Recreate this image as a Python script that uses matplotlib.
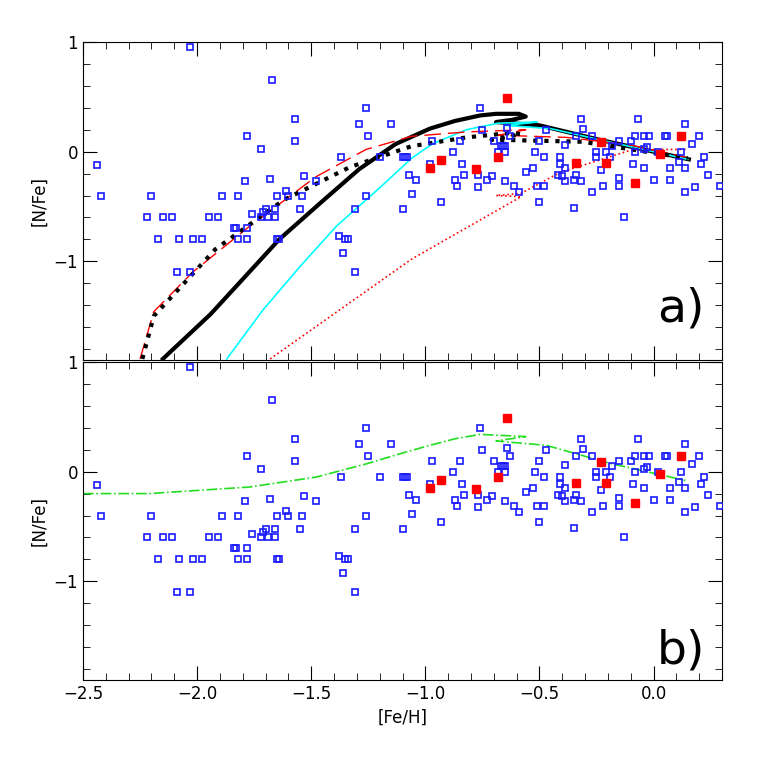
import matplotlib
matplotlib.use("Agg")
import matplotlib.pyplot as plt
from matplotlib.ticker import MultipleLocator

# Blue open squares: field stars [Fe/H], [N/Fe]
blue_x = [-2.03,-2.44,-2.42,-2.20,-2.22,-2.15,-2.11,-2.17,-2.08,-2.02,-1.98,-2.09,-2.03,
          -1.95,-1.91,-1.89,-1.82,-1.84,-1.83,-1.78,-1.82,-1.78,-1.67,-1.78,-1.72,-1.79,-1.68,
          -1.76,-1.72,-1.71,-1.70,-1.69,-1.66,-1.66,-1.65,-1.65,-1.64,-1.61,-1.60,-1.57,-1.57,
          -1.53,-1.54,-1.55,-1.48,-1.37,-1.38,-1.36,-1.35,-1.34,-1.31,-1.31,-1.26,-1.29,-1.26,
          -1.25,-1.15,-1.20,-1.10,-1.10,-1.09,-1.08,
          -1.07,-1.04,-1.06,-0.98,-0.97,-0.93,-0.88,-0.85,-0.84,-0.87,-0.86,-0.83,-0.77,-0.77,
          -0.76,-0.75,-0.73,-0.71,-0.70,-0.68,-0.67,-0.66,-0.65,-0.65,-0.64,-0.63,-0.65,-0.61,
          -0.59,-0.56,-0.53,-0.52,-0.50,-0.51,-0.48,-0.50,-0.48,-0.47,-0.41,-0.41,-0.39,-0.42,
          -0.40,-0.39,-0.39,-0.34,-0.34,-0.35,-0.32,-0.35,-0.32,-0.31,-0.27,-0.27,-0.25,-0.25,
          -0.23,-0.22,-0.21,-0.19,-0.18,-0.15,-0.15,-0.15,-0.13,-0.10,-0.09,-0.08,-0.08,-0.07,
          -0.04,-0.02,-0.04,-0.03,-0.04,0.00,0.02,0.05,0.06,0.07,0.07,0.11,0.12,0.14,0.14,0.14,
          0.17,0.18,0.20,0.21,0.22,0.24,0.29]
blue_y = [0.95,-0.12,-0.40,-0.40,-0.60,-0.60,-0.60,-0.80,-0.80,-0.80,-0.80,-1.10,-1.10,
          -0.60,-0.60,-0.40,-0.40,-0.70,-0.70,-0.70,-0.80,-0.80,0.65,0.14,0.02,-0.27,-0.25,
          -0.57,-0.60,-0.55,-0.52,-0.60,-0.52,-0.60,-0.40,-0.80,-0.80,-0.36,-0.40,0.30,0.10,
          -0.22,-0.40,-0.52,-0.27,-0.05,-0.77,-0.92,-0.80,-0.80,-0.52,-1.10,-0.40,0.25,0.40,
          0.14,0.25,-0.05,-0.05,-0.52,-0.05,-0.05,
          -0.21,-0.26,-0.39,-0.11,0.10,-0.46,0.00,0.10,-0.11,-0.26,-0.31,-0.21,-0.21,-0.32,
          0.40,0.20,-0.26,-0.22,0.10,0.00,0.05,0.05,0.05,0.00,0.22,0.14,-0.27,-0.31,
          -0.37,-0.19,-0.15,0.00,0.10,-0.31,-0.31,-0.46,-0.05,0.20,-0.05,-0.11,-0.15,-0.21,
          -0.22,-0.27,0.06,0.14,-0.21,-0.26,-0.27,-0.51,0.30,0.21,0.14,-0.37,0.00,-0.05,
          -0.17,-0.31,0.00,-0.05,0.05,0.10,-0.24,-0.31,-0.60,0.10,-0.11,0.14,0.00,0.30,
          0.14,0.14,0.02,0.04,-0.15,-0.26,0.00,0.14,0.14,-0.15,-0.26,-0.09,0.00,0.25,-0.15,-0.37,
          0.07,-0.32,0.14,-0.11,-0.05,-0.21,-0.31]

# Red filled squares
red_x = [-0.64,-0.98,-0.93,-0.78,-0.68,-0.34,-0.23,-0.21,-0.08,0.03,0.12]
red_y = [0.49,-0.15,-0.08,-0.16,-0.05,-0.10,0.09,-0.10,-0.29,-0.02,0.14]

# Model curves, panel a
black_x = [-2.15,-1.94,-1.64,-1.45,-1.29,-1.13,-0.98,-0.87,-0.76,-0.69,-0.59,-0.56,-0.62,-0.69,-0.50,-0.24,0.00,0.155]
black_y = [-1.89,-1.48,-0.80,-0.45,-0.16,0.07,0.21,0.28,0.33,0.345,0.345,0.32,0.29,0.27,0.24,0.11,0.00,-0.07]
cyan_x = [-1.87,-1.71,-1.55,-1.39,-1.20,-1.06,-0.97,-0.82,-0.68,-0.51,-0.60,-0.65,-0.45,-0.24,0.00,0.15]
cyan_y = [-1.89,-1.44,-1.05,-0.68,-0.33,-0.06,0.07,0.20,0.26,0.27,0.25,0.24,0.21,0.11,0.00,-0.07]
reddash_x = [-2.25,-2.19,-2.02,-1.77,-1.48,-1.26,-1.06,-0.82,-0.56,-0.68,-0.38,-0.10,0.14]
reddash_y = [-1.89,-1.46,-1.10,-0.68,-0.23,0.02,0.14,0.18,0.20,0.15,0.13,0.06,-0.05]
blackdot_x = [-2.24,-2.19,-1.92,-1.62,-1.33,-1.06,-0.82,-0.63,-0.58,-0.71,-0.31,0.15]
blackdot_y = [-1.89,-1.50,-0.89,-0.44,-0.14,0.05,0.13,0.17,0.16,0.11,0.09,-0.06]
reddot_x = [-1.68,-1.06,-0.58,-0.69,-0.58,-0.41,-0.09,0.14]
reddot_y = [-1.89,-0.98,-0.41,-0.40,-0.38,-0.19,0.02,0.02]

# Model curve, panel b
green_x = [-2.50,-2.21,-1.77,-1.48,-1.26,-1.10,-0.98,-0.87,-0.76,-0.56,-0.69,-0.47,-0.18,0.14]
green_y = [-0.20,-0.20,-0.14,-0.05,0.07,0.17,0.24,0.30,0.34,0.32,0.28,0.24,0.07,-0.08]

fig = plt.figure(figsize=(7.63, 7.63), dpi=100)
W = H = 763.0
axa = fig.add_axes([83/W, 1-360/H, (722-83)/W, (360-42)/H])
axb = fig.add_axes([83/W, 1-680/H, (722-83)/W, (360-42)/H], sharex=axa)

for ax in (axa, axb):
    ax.plot(blue_x, blue_y, 's', mfc='none', mec='#1a1aff', ms=4.5, mew=1.2, zorder=3)
    ax.plot(red_x, red_y, 's', color='red', ms=6, zorder=4)
    ax.set_xlim(-2.5, 0.3)
    ax.set_ylim(-1.9, 1.0)
    ax.xaxis.set_major_locator(MultipleLocator(0.5))
    ax.xaxis.set_minor_locator(MultipleLocator(0.1))
    ax.yaxis.set_major_locator(MultipleLocator(1))
    ax.yaxis.set_minor_locator(MultipleLocator(0.2))
    ax.tick_params(which='both', direction='in', top=True, right=True, labelsize=12)
    ax.tick_params(which='major', length=10)
    ax.tick_params(which='minor', length=5)
    ax.set_ylabel('[N/Fe]', fontsize=12)

axa.plot(black_x, black_y, '-', color='black', lw=3)
axa.plot(cyan_x, cyan_y, '-', color='cyan', lw=1.2)
axa.plot(reddash_x, reddash_y, '--', color='red', lw=1, dashes=(12, 5))
axa.plot(blackdot_x, blackdot_y, ':', color='black', lw=3)
axa.plot(reddot_x, reddot_y, ':', color='red', lw=1.2)
axa.tick_params(labelbottom=False)
axa.text(0.12, -1.55, 'a)', fontsize=34, ha='center')

axb.plot(green_x, green_y, '-.', color='#22dd22', lw=1.2)
axb.set_xlabel('[Fe/H]', fontsize=12)
axb.text(0.12, -1.75, 'b)', fontsize=34, ha='center')

fig.savefig('out.png', dpi=100)
